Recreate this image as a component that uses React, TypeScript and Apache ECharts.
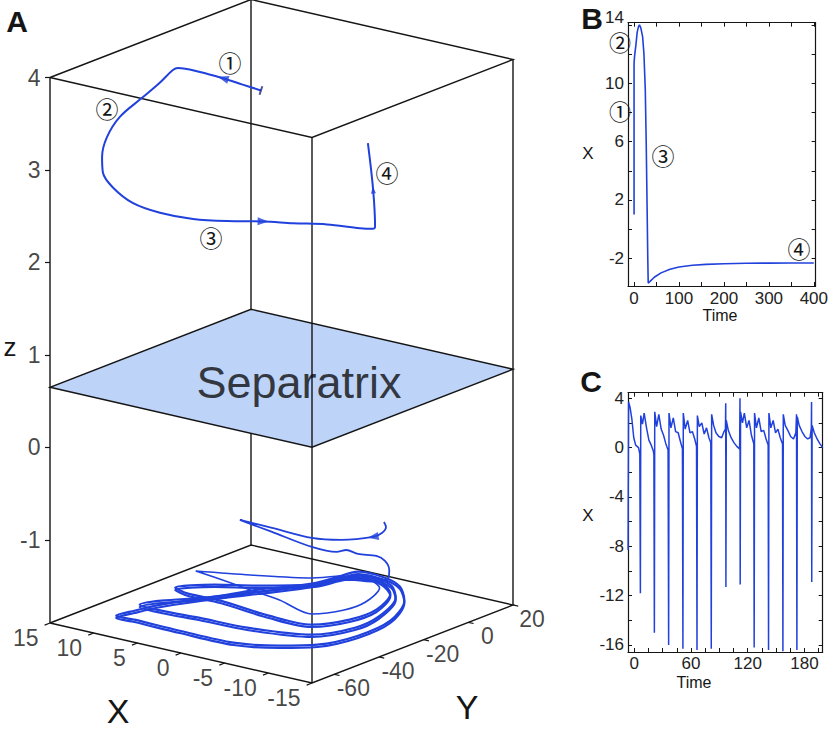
import React, { useEffect, useRef } from 'react';
import * as echarts from 'echarts';

// ---------------- Panel A : 3-D box (data units) ----------------
const boxX = [-15, 15];
const boxY = [-70, 20];
const boxZ = [-1.9, 4];
const separatrixZ = 0.65;
const xTicksA = [15, 10, 5, 0, -5, -10, -15];
const yTicksA = [-60, -40, -20, 0, 20];
const zTicksA = [-1, 0, 1, 2, 3, 4];

// trajectory starting above the separatrix
const upperX = [1, 3, 6, 9, 11.5, 12, 12.5, 13, 13.5, 13.9, 14, 13.8, 13.4, 12.8, 12, 10, 7, 4, 1, -1.5, -3.2, -3.4, -3.4, -2.9, -2.4];
const upperY = [-30.3, -31.0, -27.7, -26.3, -26.4, -26.7, -30.5, -36.6, -44.5, -48.8, -50.6, -51.0, -48.1, -41.4, -32.5, -25.5, -22.0, -17.6, -15.9, -10.5, -2.4, 2.7, 3.6, 4.7, 4.3];
const upperZ = [3.79, 3.82, 3.79, 3.78, 3.77, 3.74, 3.63, 3.51, 3.37, 3.18, 2.98, 2.82, 2.64, 2.42, 2.25, 2.16, 2.17, 2.19, 2.22, 2.21, 2.13, 2.08, 2.09, 2.47, 2.97];

// trajectory starting below the separatrix (transient)
const transX = [-5.74, -6.81, -7.63, -7.74, -5.98, -3.52, 1.21, 5.01, 2.18, -1.76, -3.61, -3.94, -4.67, -5.5, -6.19, -6.45, -6.15, -4.48, -0.69, 0.84];
const transY = [-1.57, -4.84, -9.91, -14.24, -21.78, -25.16, -24.5, -24.06, -20.7, -18.28, -14.43, -11.38, -8.96, -4.03, -2.88, -1.98, -1.26, 0.93, 5.16, 3.93];
const transZ = [-1.0, -1.0, -1.0, -1.0, -1.0, -1.0, -1.0, -1.0, -1.1, -1.2, -1.25, -1.25, -1.3, -1.35, -1.4, -1.5, -1.6, -1.7, -1.8, -1.8];

// bursting attractor loops (near the floor)
const attractorZ = [-1.8, -1.775];
const loop1X = [0.62, 1.29, 4.06, 5.86, 8.25, 9.06, 9.45, 7.39, 2.09, -4.0, -7.88, -10.41, -11.68, -11.22, -8.52, -5.61, -2.85, 0.19, 0.62];
const loop1Y = [4.47, -6.35, -19.63, -31.86, -46.6, -55.43, -62.09, -61.96, -62.43, -62.2, -56.7, -49.72, -36.39, -20.15, -3.31, 6.13, 10.16, 10.05, 4.47];
const loop2X = [0.4, 1.3, 3.69, 6.45, 8.99, 9.8, 7.13, 3.13, -2.22, -8.17, -9.97, -9.63, -7.34, -4.81, -1.85, 0.4];
const loop2Y = [2.65, -8.69, -21.08, -34.37, -43.69, -50.17, -50.95, -49.78, -49.0, -43.36, -31.13, -19.21, -2.57, 5.42, 7.84, 2.65];
const loop3X = [0.34, 0.88, 4.8, 8.09, 10.39, 8.35, 4.73, -1.54, -6.31, -8.1, -8.18, -6.21, -3.56, -0.71, 0.34];
const loop3Y = [0.49, -6.53, -16.73, -23.15, -31.94, -34.15, -33.86, -36.71, -36.1, -26.21, -14.49, -0.55, 6.0, 7.5, 0.49];
const loop4X = [1.21, 2.78, 7.76, 12.44, 8.84, 4.97, 1.03, -3.9, -5.49, -5.54, -3.95, -1.09, 1.21];
const loop4Y = [5.38, -0.54, -8.55, -14.75, -16.82, -19.43, -21.87, -26.67, -18.4, -9.03, 3.46, 8.39, 5.38];

// ---------------- Panel B ----------------
const bTime = [0, 0, 1, 2, 4, 7, 10, 12, 15, 19, 22, 25, 27, 29, 30.5, 31.5, 35, 45, 60, 80, 100, 130, 160, 200, 250, 300, 350, 400];
const bX = [1, 11.4, 11.8, 12.1, 12.6, 13.5, 13.9, 14, 13.8, 13.2, 12, 9.5, 6, 1.5, -2, -3.7, -3.6, -3.3, -3.0, -2.75, -2.6, -2.48, -2.42, -2.37, -2.34, -2.33, -2.32, -2.32];
const bTimeTicks = [0, 50, 100, 150, 200, 250, 300, 350, 400];
const bTimeLabels = [0, 100, 200, 300, 400];
const bXTicks = [-2, 0, 2, 4, 6, 8, 10, 12, 14];
const bXLabels = [-2, 2, 6, 10, 14];

// ---------------- Panel C ----------------
const cTime = [
  -6.6, -6.1, -4.6, -2.6, -0.6, 1.4, 4.4, 5.8, 6.4,
  6.8, 8.6, 10.4, 12.9, 15.4, 17.9, 20.2, 20.7, 21.2,
  21.6, 23.6, 25.9, 28.4, 30.9, 33.4, 35.7, 36.3,
  36.7, 38.7, 41.2, 43.7, 46.4, 48.4, 50.9, 51.4,
  51.8, 53.8, 56.4, 58.9, 61.4, 63.9, 65.8, 66.3,
  66.7, 68.7, 71.4, 73.9, 76.4, 78.9, 80.9, 81.4,
  81.8, 83.9, 86.4, 89.4, 92.4, 94.9, 96.4, 96.7, 96.9,
  97.3, 99.4, 102.4, 105.4, 108.4, 111.4, 111.8, 112.0,
  112.4, 114.4, 116.4, 118.9, 121.4, 123.9, 126.4, 126.8,
  127.2, 129.2, 131.7, 134.2, 136.9, 139.4, 141.6, 142.0,
  142.4, 144.4, 146.9, 149.4, 151.9, 154.4, 156.8, 157.2,
  157.6, 159.6, 162.4, 165.4, 168.4, 170.9, 171.6, 172.0,
  172.4, 174.4, 177.4, 180.4, 183.4, 185.9, 187.3, 187.5, 187.7,
  188.1, 190.4, 193.4, 196.4, 198.4, 199.3,
];
const cX = [
  -8.3, 3.7, 3.3, 2.3, 0.8, 0.2, 0.0, -0.5, -11.8,
  2.6, 1.9, 2.8, 1.6, 0.6, 0.2, -0.3, -0.6, -15.0,
  2.9, 1.7, 2.7, 1.5, 1.0, 0.3, -0.2, -16.0,
  2.8, 1.6, 2.4, 1.3, 1.2, 0.6, -0.1, -16.3,
  2.8, 1.5, 2.2, 1.2, 1.3, 0.7, 0.1, -16.4,
  2.6, 1.7, 2.0, 1.1, 1.6, 0.8, 0.4, -16.3,
  2.7, 1.8, 1.2, 0.9, 0.8, 1.3, 1.5, 3.6, -11.3,
  2.2, 1.4, 0.8, 0.4, 0.1, -0.1, 4.0, -11.1,
  2.9, 2.0, 2.8, 1.6, 2.2, 1.0, 0.3, -16.2,
  2.8, 1.6, 2.4, 1.3, 1.4, 0.7, 0.2, -16.4,
  2.8, 1.6, 2.2, 1.2, 1.5, 0.8, 0.3, -16.5,
  2.7, 1.8, 1.4, 0.9, 0.7, 1.2, 2.7, -16.4,
  2.5, 1.8, 1.3, 0.9, 0.7, 0.8, 1.6, 3.7, -10.9,
  1.8, 1.2, 0.7, 0.3, 0.1, 0.0,
];
const cTimeTicks = [0, 15, 30, 45, 60, 75, 90, 105, 120, 135, 150, 165, 180, 195];
const cTimeLabels = [0, 60, 120, 180];
const cXTicks = [-16, -14, -12, -10, -8, -6, -4, -2, 0, 2, 4];
const cXLabels = [-16, -12, -8, -4, 0, 4];

// ---------------- styling / projection ----------------
const FONT = "'Liberation Sans', Arial, sans-serif";
const NARROW = "'Liberation Sans Narrow', 'Liberation Sans', Arial, sans-serif";
const CJK = "'Noto Sans CJK JP', 'Noto Sans CJK SC', sans-serif";
const BLUE = '#2141dc';
const INK = '#151515';

const ORIGIN = [312, 683];
const EX = [-262 / 30, -60 / 30];
const EY = [201 / 90, -78 / 90];
const EZ = [0, -545.5 / 5.9];

function P(x: number, y: number, z: number): [number, number] {
  const a = x - boxX[0], b = y - boxY[0], c = z - boxZ[0];
  return [ORIGIN[0] + a * EX[0] + b * EY[0] + c * EZ[0], ORIGIN[1] + a * EX[1] + b * EY[1] + c * EZ[1]];
}

function angleDeg(a: number[], b: number[]) {
  return (Math.atan2(-(b[1] - a[1]), b[0] - a[0]) * 180) / Math.PI;
}

function buildOption(): any {
  const corners = (z: number) => [P(boxX[1], boxY[0], z), P(boxX[0], boxY[0], z), P(boxX[0], boxY[1], z), P(boxX[1], boxY[1], z)];
  const bot = corners(boxZ[0]);
  const top = corners(boxZ[1]);
  const sep = corners(separatrixZ);

  const frontEdges = [
    { coords: [bot[0], bot[1], bot[2], bot[3], bot[0]] },
    { coords: [top[0], top[1], top[2], top[3], top[0]] },
    { coords: [bot[0], top[0]] },
    { coords: [bot[1], top[1]] },
    { coords: [bot[2], top[2]] },
  ];
  const backEdge = [{ coords: [bot[3], top[3]] }];

  const tickSegs: any[] = [];
  zTicksA.forEach((z) => {
    const p = P(boxX[1], boxY[0], z);
    tickSegs.push({ coords: [p, [p[0] - 5, p[1]]] });
  });
  xTicksA.forEach((x) => tickSegs.push({ coords: [P(x, boxY[0], boxZ[0]), P(x, boxY[0] - 2.4, boxZ[0])] }));
  yTicksA.forEach((y) => tickSegs.push({ coords: [P(boxX[0], y, boxZ[0]), P(boxX[0] - 0.6, y, boxZ[0])] }));

  const upper = upperX.map((x, i) => P(x, upperY[i], upperZ[i]));
  const trans = transX.map((x, i) => P(x, transY[i], transZ[i]));
  const loops: [number[], number[]][] = [
    [loop1X, loop1Y],
    [loop2X, loop2Y],
    [loop3X, loop3Y],
    [loop4X, loop4Y],
  ];

  const lineA = (data: number[][], width: number, smooth: number) => ({
    type: 'line', xAxisIndex: 0, yAxisIndex: 0, data, showSymbol: false, symbol: 'none', smooth,
    lineStyle: { color: BLUE, width }, silent: true, z: 5, animation: false,
  });

  const loopSeries: any[] = [];
  loops.forEach(([lx, ly], k) => {
    attractorZ.forEach((z, j) => {
      if (k === 3 && j === 1) return;
      loopSeries.push(lineA(lx.map((x, i) => P(x, ly[i], z)), k === 3 ? 1.6 : 2.2, 0.3));
    });
  });

  const arrow = (pts: number[][], i: number, j: number, k: number, size: number[]) => ({
    value: pts[i],
    symbolRotate: angleDeg(pts[j], pts[k]) - 90,
    symbolSize: size,
  });

  const arrows = [
    arrow(upper, 2, 1, 3, [8, 11]),
    arrow(upper, 17, 16, 18, [8, 11]),
    arrow(upper, 23, 22, 24, [5, 7]),
    arrow(trans, 3, 2, 4, [8, 11]),
  ];

  const labelScatter = (data: any[], label: any) => ({
    type: 'scatter', xAxisIndex: 0, yAxisIndex: 0, symbolSize: 1,
    itemStyle: { color: 'rgba(0,0,0,0)' }, data, silent: true, z: 6,
    label: { show: true, formatter: '{b}', fontFamily: FONT, color: INK, ...label },
  });

  const tickStyle = { color: INK, width: 1 };
  const axLine = { show: true, onZero: false, lineStyle: { color: INK, width: 1.2 } };
  const lblB = { fontFamily: NARROW, fontSize: 17, color: '#222' };

  const mkAxis = (grid: number, min: number, max: number, ticks: number[], labels: number[] | null, pos: string, extra: any = {}) => ({
    type: 'value', gridIndex: grid, min, max, position: pos,
    axisLine: axLine,
    axisTick: { show: true, inside: true, length: 4, lineStyle: tickStyle, customValues: ticks },
    axisLabel: labels ? { show: true, customValues: labels, margin: 4, ...lblB, ...extra } : { show: false },
    splitLine: { show: false },
  });

  // panel B: the top label ("14") sits a little above its tick in the reference,
  // so it is drawn separately a few pixels higher.
  const bTopLabel = bXLabels[bXLabels.length - 1];
  const bLeftLabels = bXLabels.slice(0, -1);

  const graphicText = (text: string, x: number, y: number, fontSize: number, extra: any = {}) => ({
    type: 'text', x, y, silent: true,
    style: { text, fontSize, fontFamily: FONT, fill: INK, align: 'center', verticalAlign: 'middle', ...extra },
  });

  return {
    animation: false,
    grid: [
      { left: 0, top: 0, width: 831, height: 735 },
      { left: 628, top: 22.7, width: 194.7, height: 263.3 },
      { left: 628, top: 392.7, width: 194.7, height: 259.3 },
    ],
    xAxis: [
      { type: 'value', gridIndex: 0, min: 0, max: 831, show: false },
      mkAxis(1, -13.5, 404, bTimeTicks, bTimeLabels, 'bottom'),
      mkAxis(1, -13.5, 404, bTimeTicks, null, 'top'),
      mkAxis(2, -6.7, 199.3, cTimeTicks, cTimeLabels, 'bottom', { margin: 3 }),
      mkAxis(2, -6.7, 199.3, cTimeTicks, null, 'top'),
    ],
    yAxis: [
      { type: 'value', gridIndex: 0, min: 0, max: 735, inverse: true, show: false },
      mkAxis(1, -3.9, 14.15, bXTicks, bLeftLabels, 'left'),
      mkAxis(1, -3.9, 14.15, bXTicks, null, 'right'),
      mkAxis(2, -16.57, 4.45, cXTicks, cXLabels, 'left'),
      mkAxis(2, -16.57, 4.45, cXTicks, null, 'right'),
    ],
    series: [
      { type: 'lines', coordinateSystem: 'cartesian2d', xAxisIndex: 0, yAxisIndex: 0, polyline: true, data: backEdge,
        lineStyle: { color: INK, width: 1.4, opacity: 1, curveness: 0 }, silent: true, z: 1 },
      { type: 'custom', xAxisIndex: 0, yAxisIndex: 0, data: [[0, 0]], silent: true, z: 2,
        renderItem: (_p: any, api: any) => ({
          type: 'polygon',
          shape: { points: sep.map((c) => api.coord(c)) },
          style: { fill: '#bdd3f8', stroke: INK, lineWidth: 1.4 },
        }) },
      labelScatter([{ name: 'Separatrix', value: P(-2, -25, separatrixZ) }], { position: 'inside', fontSize: 45, color: '#0d0d0d' }),
      { type: 'lines', coordinateSystem: 'cartesian2d', xAxisIndex: 0, yAxisIndex: 0, polyline: true, data: frontEdges,
        lineStyle: { color: INK, width: 1.4, opacity: 1, curveness: 0 }, silent: true, z: 4 },
      { type: 'lines', coordinateSystem: 'cartesian2d', xAxisIndex: 0, yAxisIndex: 0, polyline: false, data: tickSegs,
        lineStyle: { color: INK, width: 1.2, opacity: 1, curveness: 0 }, silent: true, z: 4 },
      labelScatter(zTicksA.map((z) => ({ name: String(z), value: P(boxX[1], boxY[0], z) })), { position: 'left', distance: 9, fontSize: 23 }),
      labelScatter(xTicksA.map((x) => ({ name: String(x), value: P(x, boxY[0], boxZ[0]) })), { position: 'left', distance: 11, offset: [0, 15], fontSize: 23 }),
      labelScatter(yTicksA.map((y) => ({ name: String(y), value: P(boxX[0], y, boxZ[0]) })), { position: 'inside', offset: [19, 14], fontSize: 23 }),
      lineA(upper, 2, 0.35),
      lineA(trans, 1.8, 0.3),
      ...loopSeries,
      { type: 'scatter', xAxisIndex: 0, yAxisIndex: 0, symbol: 'triangle', data: arrows, itemStyle: { color: BLUE }, silent: true, z: 6 },
      { type: 'scatter', xAxisIndex: 0, yAxisIndex: 0, symbol: 'rect',
        data: [{ value: upper[0], symbolRotate: angleDeg(upper[0], upper[1]), symbolSize: [2, 9] }],
        itemStyle: { color: '#1a2a80' }, silent: true, z: 6 },
      { type: 'line', xAxisIndex: 1, yAxisIndex: 1, data: bTime.map((t, i) => [t, bX[i]]), showSymbol: false, symbol: 'none',
        lineStyle: { color: BLUE, width: 1.6 }, silent: true },
      { type: 'line', xAxisIndex: 3, yAxisIndex: 3, data: cTime.map((t, i) => [t, cX[i]]), showSymbol: false, symbol: 'none',
        lineStyle: { color: BLUE, width: 1.5 }, silent: true },
    ],
    graphic: [
      graphicText('A', 17, 21, 30, { fontWeight: 'bold' }),
      graphicText('B', 592, 18, 30, { fontWeight: 'bold' }),
      graphicText('C', 591, 381, 30, { fontWeight: 'bold' }),
      graphicText('z', 10, 347, 26),
      graphicText('X', 118, 711, 34),
      graphicText('Y', 467, 707, 34),
      graphicText(String(bTopLabel), 624, 17, 17, { fontFamily: NARROW, fill: '#222', align: 'right' }),
      graphicText('\u2460', 230, 62, 23, { fontFamily: CJK }),
      graphicText('\u2461', 107, 108, 23, { fontFamily: CJK }),
      graphicText('\u2462', 211, 237, 23, { fontFamily: CJK }),
      graphicText('\u2463', 387, 172, 23, { fontFamily: CJK }),
      graphicText('\u2461', 620, 41, 22, { fontFamily: CJK }),
      graphicText('\u2460', 620, 110, 22, { fontFamily: CJK }),
      graphicText('\u2462', 663, 155, 23, { fontFamily: CJK }),
      graphicText('\u2463', 799, 248, 23, { fontFamily: CJK }),
      graphicText('X', 588, 153, 17, { fontFamily: NARROW }),
      graphicText('Time', 720, 315, 16, { fontFamily: NARROW }),
      graphicText('X', 588, 515, 17, { fontFamily: NARROW }),
      graphicText('Time', 694, 682, 16, { fontFamily: NARROW }),
    ],
  };
}

export default function App() {
  const ref = useRef<HTMLDivElement>(null);
  useEffect(() => {
    document.body.style.margin = '0';
    const chart = echarts.init(ref.current as HTMLDivElement, undefined, { renderer: 'svg' });
    chart.setOption(buildOption());
    return () => chart.dispose();
  }, []);
  return <div ref={ref} style={{ width: 831, height: 735 }} />;
}
